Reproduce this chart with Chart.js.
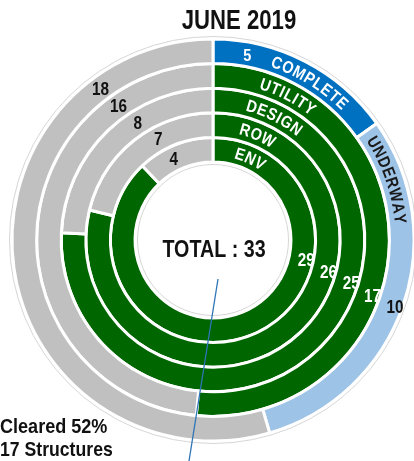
<!DOCTYPE html>
<html><head><meta charset="utf-8">
<script src="https://cdn.jsdelivr.net/npm/chart.js@4"></script>
<style>html,body{margin:0;padding:0;background:#fff;overflow:hidden}#wrap{position:relative;width:414px;height:461px}</style>
</head><body><div id="wrap"><canvas id="c"></canvas></div>
<script>
// ---- data ----
const chartTitle = 'JUNE 2019';
const statusLabels = ['COMPLETE', 'UNDERWAY', 'NOT STARTED'];
const statusValues = [5, 10, 18];
const stageNames = ['UTILITY', 'DESIGN', 'ROW', 'ENV'];
const stageDone = [17, 25, 26, 29];
const stageLeft = [16, 8, 7, 4];
const totalStructures = 33;
const clearedLines = ['Cleared 52%', '17 Structures'];

// ---- styles ----
const BLUE = '#0070C0', LBLUE = '#9DC3E6', GREY = '#C0C0C0', GREEN = '#006600';
const FONT = '"Liberation Sans", Arial, sans-serif';

function txt(ctx, s, x, y, size, color, align, sx) {
  ctx.save();
  ctx.font = `bold ${size}px ${FONT}`;
  ctx.fillStyle = color;
  ctx.textBaseline = 'alphabetic';
  const w = ctx.measureText(s).width * sx;
  let x0 = x;
  if (align === 'center') x0 = x - w / 2;
  else if (align === 'right') x0 = x - w;
  ctx.translate(x0, y);
  ctx.scale(sx, 1);
  ctx.textAlign = 'left';
  ctx.fillText(s, 0, 0);
  ctx.restore();
}
function txtMid(ctx, s, x, y, size, color, sx) {
  txt(ctx, s, x, y + size * 0.716 / 2, size, color, 'center', sx);
}
function arcText(ctx, s, cx, cy, r, centerDeg, size, color, sx, spacing) {
  ctx.save();
  ctx.font = `bold ${size}px ${FONT}`;
  ctx.fillStyle = color;
  ctx.textAlign = 'center';
  ctx.textBaseline = 'alphabetic';
  const chars = [...s];
  const widths = chars.map(ch => ctx.measureText(ch).width * sx + spacing);
  const total = widths.reduce((a, b) => a + b, 0) - spacing;
  let a = centerDeg * Math.PI / 180 - total / r / 2;
  chars.forEach((ch, i) => {
    const w = widths[i] - spacing;
    const ang = a + w / 2 / r;
    ctx.save();
    ctx.translate(cx, cy);
    ctx.rotate(ang);
    ctx.translate(0, -r + size * 0.716 / 2);
    ctx.scale(sx, 1);
    ctx.fillText(ch, 0, 0);
    ctx.restore();
    a += widths[i] / r;
  });
  ctx.restore();
}

const overlay = {
  id: 'overlay',
  afterDraw(chart) {
    const ctx = chart.ctx;
    const m0 = chart.getDatasetMeta(0).data[0];
    const cx = m0.x, cy = m0.y;
    const outerR = m0.outerRadius;
    const ringMid = chart.data.datasets.map((d, i) => {
      const el = chart.getDatasetMeta(i).data[0];
      return (el.innerRadius + el.outerRadius) / 2;
    });
    const innerR = chart.getDatasetMeta(chart.data.datasets.length - 1).data[0].innerRadius;
    // faint outlines
    ctx.save();
    ctx.strokeStyle = '#d6d6d6';
    ctx.lineWidth = 1;
    ctx.beginPath(); ctx.arc(cx, cy, outerR + 2.5, 0, Math.PI * 2); ctx.stroke();
    ctx.beginPath(); ctx.arc(cx, cy, innerR - 2.5, 0, Math.PI * 2); ctx.stroke();
    ctx.restore();

    // title
    txt(ctx, chartTitle, 239, 28.5, 27, '#111', 'center', 0.82);
    // center total
    txt(ctx, 'TOTAL : ' + totalStructures, 214, 257, 24, '#111', 'center', 0.82);

    // outer ring curved labels
    txtMid(ctx, String(statusValues[0]), cx + ringMid[0] * Math.sin(10.5 * Math.PI / 180), cy - ringMid[0] * Math.cos(10.5 * Math.PI / 180), 17, '#fff', 0.85);
    arcText(ctx, statusLabels[0], cx, cy, ringMid[0], 31.5, 17, '#fff', 0.85, 1);
    arcText(ctx, statusLabels[1], cx, cy, ringMid[0], 71, 17, '#1a1a1a', 0.85, 1);
    const stageAng = [27.5, 26.5, 23, 24.5];
    stageNames.forEach((n, i) => arcText(ctx, n, cx, cy, ringMid[i + 1], stageAng[i], 17, '#fff', 0.85, 1));

    // value labels
    const polar = (deg, r) => [cx + r * Math.sin(deg * Math.PI / 180), cy - r * Math.cos(deg * Math.PI / 180)];
    const greyAng = [323.4, 324.8, 327.3, 331.5, 334.3];
    const greyVals = [statusValues[2]].concat(stageLeft);
    greyVals.forEach((v, i) => {
      const [x, y] = polar(greyAng[i], ringMid[i]);
      txtMid(ctx, String(v), x, y, 18, '#111', 0.85);
    });
    const rightAng = [110, 109.3, 107, 105.4, 101.9];
    const rightVals = [statusValues[1]].concat(stageDone);
    rightVals.forEach((v, i) => {
      const [x, y] = polar(rightAng[i], ringMid[i] + 5);
      txtMid(ctx, String(v), x, y, 18, i === 0 ? '#111' : '#fff', 0.85);
    });

    // leader line
    ctx.save();
    ctx.strokeStyle = '#2E75B6';
    ctx.lineWidth = 1.3;
    ctx.beginPath(); ctx.moveTo(218, 279); ctx.lineTo(189, 461); ctx.stroke();
    ctx.restore();

    // cleared text
    txt(ctx, clearedLines[0], 0, 433, 21, '#111', 'left', 0.86);
    txt(ctx, clearedLines[1], 0, 456, 21, '#111', 'left', 0.84);
  }
};

const datasets = [{
  label: 'STATUS',
  data: statusValues,
  backgroundColor: [BLUE, LBLUE, GREY]
}].concat(stageNames.map((n, i) => ({
  label: n,
  data: [stageDone[i], stageLeft[i]],
  backgroundColor: [GREEN, GREY]
})));

new Chart(document.getElementById('c'), {
  type: 'doughnut',
  data: { labels: ['Done', 'Underway', 'Remaining'], datasets },
  options: {
    responsive: true,
    maintainAspectRatio: false,
    animation: false,
    radius: 201,
    cutout: '38.8%',
    layout: { padding: { left: 12, right: 0, top: 39, bottom: 20 } },
    elements: { arc: { borderWidth: 3, borderColor: '#fff' } },
    plugins: { legend: { display: false }, tooltip: { enabled: false }, title: { display: false } }
  },
  plugins: [overlay]
});
</script>
</body></html>
